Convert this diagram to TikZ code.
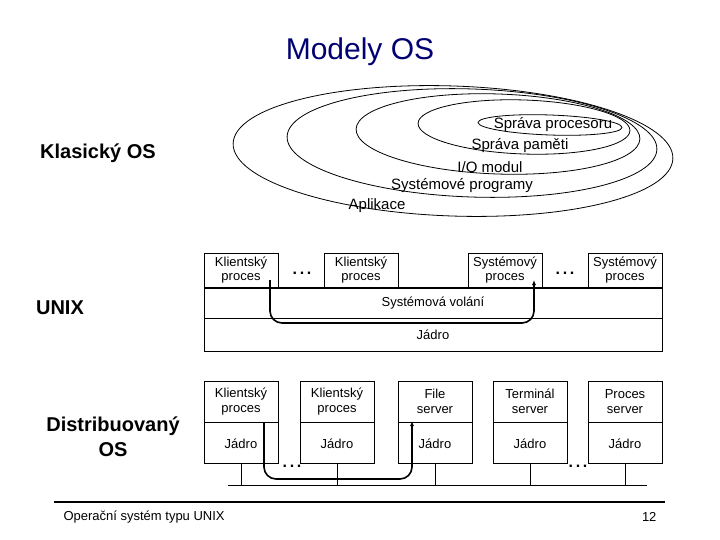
\documentclass[tikz,border=0pt]{standalone}
\usepackage{fontspec}
\setmainfont{Liberation Sans}
\usetikzlibrary{arrows.meta}
\begin{document}
\begin{tikzpicture}[x=1pt,y=-1pt,
  box/.style={draw,thick,minimum width=74pt,minimum height=35pt,inner sep=0pt,align=center,font=\fontsize{13}{14}\selectfont},
  dbox/.style={draw,thick,minimum width=74pt,minimum height=41pt,inner sep=0pt,align=center,font=\fontsize{13}{15}\selectfont},
  lay/.style={draw,thick,minimum width=458pt,inner sep=0pt,font=\fontsize{13}{13}\selectfont},
  ell/.style={draw,thick},
  lab/.style={font=\fontsize{15}{15}\selectfont,inner sep=0pt},
  big/.style={font=\bfseries\fontsize{20}{25}\selectfont,align=center},
  dots/.style={font=\bfseries\fontsize{16}{16}\selectfont},
  flow/.style={line width=1.6pt,rounded corners=12pt,-{Latex[length=5pt,width=4pt]}}]
\useasboundingbox (0,0) rectangle (720,540);
\fill[white] (0,0) rectangle (720,540);
\node[text=blue!45!black,font=\fontsize{30}{30}\selectfont] (title) at (360,52) {Modely OS};
% ellipses
\draw[ell,rotate around={-2:(453,151)}] (453,151) ellipse [x radius=220,y radius=65];
\draw[ell,rotate around={-2:(472,143)}] (472,143) ellipse [x radius=185,y radius=54];
\draw[ell,rotate around={-2:(498,134)}] (498,134) ellipse [x radius=142,y radius=40];
\draw[ell,rotate around={-2:(524,127)}] (524,127) ellipse [x radius=106,y radius=27];
\draw[ell,rotate around={-2:(550,125)}] (550,125) ellipse [x radius=72,y radius=10];
\node[lab] (l1) at (553,125) {Správa procesoru};
\node[lab] (l2) at (520,146) {Správa paměti};
\node[lab] (l3) at (490,167) {I/O modul};
\node[lab] (l4) at (462,186) {Systémové programy};
\node[lab] (l5) at (377,206) {Aplikace};
\node[big] (klas) at (98,153) {Klasický OS};
\node[big] (unix) at (60,308) {UNIX};
\node[big] (dist) at (113,437) {Distribuovaný\\OS};
% UNIX
\node[box] (k1) at (241,270.5) {Klientský\\proces};
\node[box] (k2) at (361,270.5) {Klientský\\proces};
\node[box] (s1) at (505,270.5) {Systémový\\proces};
\node[box] (s2) at (625,270.5) {Systémový\\proces};
\node[dots] (d1) at (302,273) {.\,.\,.};
\node[dots] (d2) at (565,273) {.\,.\,.};
\node[lay,minimum height=30pt] (sv) at (433,303) {Systémová volání};
\node[lay,minimum height=33pt] (jd) at (433,334.5) {Jádro};
\draw[line width=1.8pt] (sv.north west) -- (sv.north east);
\coordinate (a1) at (270,280);
\coordinate (a1b) at (270,323);
\coordinate (a2b) at (534,323);
\coordinate (a2) at (534,280);
\draw[flow] (a1) -- (a1b) -- (a2b) -- (a2);
% Distributed
\foreach \i/\x/\t in {1/241/{Klientský\\proces},2/337/{Klientský\\proces},3/435/{File\\server},4/530/{Terminál\\server},5/625/{Proces\\server}}{
  \node[dbox] (p\i) at (\x,401.5) {\t};
  \node[dbox,anchor=north] (j\i) at (p\i.south) {Jádro};
}
\coordinate (bl) at (228,485);
\coordinate (br) at (647,485);
\draw[thick] (bl) -- (br);
\foreach \i in {1,...,5}{
  \coordinate (b\i) at (j\i.south |- bl);
  \draw[thick] (j\i.south) -- (b\i);
}
\node[dots] (d3) at (292,466) {.\,.\,.};
\node[dots] (d4) at (578,466) {.\,.\,.};
\coordinate (c1) at (264,422);
\coordinate (c1b) at (264,479);
\coordinate (c2b) at (412,479);
\coordinate (c2) at (412,421);
\draw[flow] (c1) -- (c1b) -- (c2b) -- (c2);
% footer
\coordinate (f1) at (54,502);
\coordinate (f2) at (665,502);
\draw[line width=1.8pt] (f1) -- (f2);
\node[anchor=west,font=\fontsize{13}{13}\selectfont] (ft) at (60,517) {Operační systém typu UNIX};
\node[anchor=east,font=\fontsize{13}{13}\selectfont] (pg) at (660,517) {12};
\end{tikzpicture}
\end{document}
